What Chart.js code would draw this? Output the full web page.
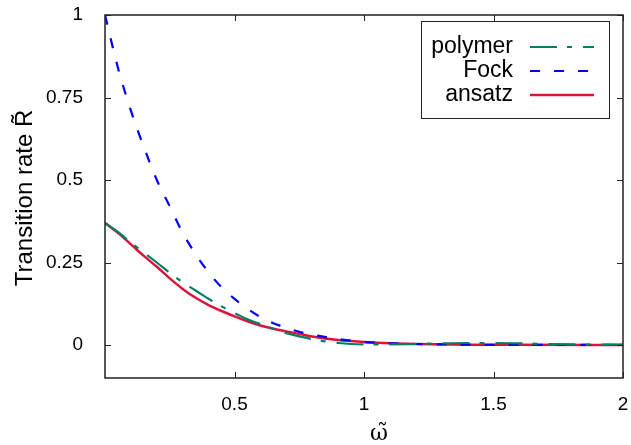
<!DOCTYPE html>
<html>
<head>
<meta charset="utf-8">
<script src="https://cdn.jsdelivr.net/npm/chart.js@4.4.1/dist/chart.umd.min.js"></script>
<style>
  html, body { margin: 0; padding: 0; background: #fff; }
</style>
</head>
<body>
<canvas id="rateChart" width="631" height="445"></canvas>
<script>
// values (omega on x, transition rate on y)
const polymerX = [0, 0.05, 0.1, 0.15, 0.2, 0.25, 0.3, 0.35, 0.4, 0.45, 0.5, 0.55, 0.6, 0.65, 0.7, 0.75, 0.8, 0.85, 0.9, 0.95, 1.0, 1.1, 1.2, 1.3, 1.4, 1.5, 1.6, 1.7, 1.8, 1.9, 2.0];
const polymerY = [0.37, 0.343, 0.31, 0.28, 0.25, 0.219, 0.19, 0.165, 0.14, 0.117, 0.097, 0.078, 0.063, 0.049, 0.036, 0.026, 0.018, 0.011, 0.006, 0.003, 0.002, 0.002, 0.003, 0.005, 0.006, 0.006, 0.005, 0.003, 0.002, 0.001, 0.001];

const fockX = [0, 0.05, 0.1, 0.15, 0.2, 0.25, 0.3, 0.35, 0.4, 0.45, 0.5, 0.55, 0.6, 0.65, 0.7, 0.75, 0.8, 0.9, 1.0, 1.1, 1.2, 1.4, 1.6, 2.0];
const fockY = [1.0, 0.84, 0.71, 0.60, 0.50, 0.42, 0.34, 0.275, 0.22, 0.175, 0.14, 0.11, 0.085, 0.066, 0.052, 0.040, 0.031, 0.018, 0.009, 0.005, 0.003, 0.001, 0.0005, 0];

const ansatzX = [0, 0.05, 0.1, 0.15, 0.2, 0.25, 0.3, 0.35, 0.4, 0.45, 0.5, 0.55, 0.6, 0.65, 0.7, 0.75, 0.8, 0.9, 1.0, 1.1, 1.2, 1.4, 1.6, 2.0];
const ansatzY = [0.37, 0.34, 0.305, 0.27, 0.237, 0.202, 0.17, 0.143, 0.121, 0.103, 0.087, 0.072, 0.059, 0.049, 0.041, 0.034, 0.026, 0.015, 0.009, 0.005, 0.003, 0.001, 0.0005, 0];

const xTicks = [0.5, 1, 1.5, 2];
const yTicks = [0, 0.25, 0.5, 0.75, 1];

const zip = (xs, ys) => xs.map((x, i) => ({ x: x, y: ys[i] }));

const tickFont = { family: "'Liberation Sans', Arial, sans-serif", size: 19 };

// gnuplot style frame: border on all sides, ticks pointing inward, boxed key
const framePlugin = {
  id: 'frame',
  afterDatasetsDraw(chart) {
    const ctx = chart.ctx;
    const a = chart.chartArea;
    const xs = chart.scales.x, ys = chart.scales.y;
    const tl = 6;
    ctx.save();
    ctx.strokeStyle = '#222';
    ctx.lineWidth = 1.5;
    ctx.strokeRect(a.left, a.top, a.right - a.left, a.bottom - a.top);
    ctx.lineWidth = 1;
    ctx.beginPath();
    xTicks.forEach(v => {
      const px = Math.round(xs.getPixelForValue(v)) + 0.5;
      ctx.moveTo(px, a.bottom); ctx.lineTo(px, a.bottom - tl);
      ctx.moveTo(px, a.top); ctx.lineTo(px, a.top + tl);
    });
    yTicks.forEach(v => {
      const py = Math.round(ys.getPixelForValue(v)) + 0.5;
      ctx.moveTo(a.left, py); ctx.lineTo(a.left + tl, py);
      ctx.moveTo(a.right, py); ctx.lineTo(a.right - tl, py);
    });
    ctx.stroke();

    // axis titles
    ctx.fillStyle = '#000';
    ctx.textAlign = 'center';
    ctx.textBaseline = 'middle';
    ctx.save();
    ctx.translate(25, 198);
    ctx.rotate(-Math.PI / 2);
    ctx.font = "24px 'Liberation Sans', Arial, sans-serif";
    ctx.fillText('Transition rate R\u0303', 0, 0);
    ctx.restore();
    ctx.font = "22px 'DejaVu Serif', serif";
    ctx.fillText('\u03c9\u0303', 379, 434);

    // key
    const box = { left: 421, top: 21, right: 609, bottom: 118 };
    ctx.fillStyle = '#fff';
    ctx.fillRect(box.left, box.top, box.right - box.left, box.bottom - box.top);
    ctx.strokeStyle = '#222';
    ctx.lineWidth = 1;
    ctx.strokeRect(box.left + 0.5, box.top + 0.5, box.right - box.left, box.bottom - box.top);
    ctx.font = "23px 'Liberation Sans', Arial, sans-serif";
    ctx.textAlign = 'right';
    chart.data.datasets.forEach((ds, i) => {
      const y = 47 + i * 24;
      ctx.fillStyle = '#000';
      ctx.fillText(ds.label, 513, y);
      ctx.save();
      ctx.strokeStyle = ds.borderColor;
      ctx.lineWidth = ds.borderWidth;
      ctx.setLineDash(ds.borderDash || []);
      ctx.beginPath();
      ctx.moveTo(530, y);
      ctx.lineTo(594, y);
      ctx.stroke();
      ctx.restore();
    });
    ctx.restore();
  }
};

new Chart(document.getElementById('rateChart'), {
  type: 'line',
  data: {
    datasets: [
      {
        label: 'polymer',
        data: zip(polymerX, polymerY),
        borderColor: '#008060',
        borderWidth: 2.2,
        borderDash: [27, 10, 5, 11],
        pointRadius: 0,
        fill: false,
        cubicInterpolationMode: 'monotone'
      },
      {
        label: 'Fock',
        data: zip(fockX, fockY),
        borderColor: '#0000ff',
        borderWidth: 2.2,
        borderDash: [10, 14],
        pointRadius: 0,
        fill: false,
        cubicInterpolationMode: 'monotone'
      },
      {
        label: 'ansatz',
        data: zip(ansatzX, ansatzY),
        borderColor: '#dc143c',
        borderWidth: 2.5,
        pointRadius: 0,
        fill: false,
        cubicInterpolationMode: 'monotone'
      }
    ]
  },
  options: {
    responsive: false,
    animation: false,
    layout: { padding: { left: 0, right: 8, top: 15, bottom: 0 } },
    plugins: { legend: { display: false }, tooltip: { enabled: false } },
    scales: {
      x: {
        type: 'linear',
        min: 0,
        max: 2,
        afterBuildTicks: s => { s.ticks = xTicks.map(v => ({ value: v })); },
        afterFit: s => { s.height = 67; s.paddingLeft = 0; s.paddingRight = 0; },
        grid: { display: false },
        border: { display: false },
        ticks: { font: tickFont, color: '#000', padding: 7, maxRotation: 0, callback: v => String(v) }
      },
      y: {
        type: 'linear',
        min: -0.1,
        max: 1,
        afterBuildTicks: s => { s.ticks = yTicks.map(v => ({ value: v })); },
        afterFit: s => { s.width = 105; s.paddingTop = 0; s.paddingBottom = 0; },
        grid: { display: false },
        border: { display: false },
        ticks: { font: tickFont, color: '#000', padding: 14, callback: v => String(v) }
      }
    }
  },
  plugins: [framePlugin]
});
</script>
</body>
</html>
